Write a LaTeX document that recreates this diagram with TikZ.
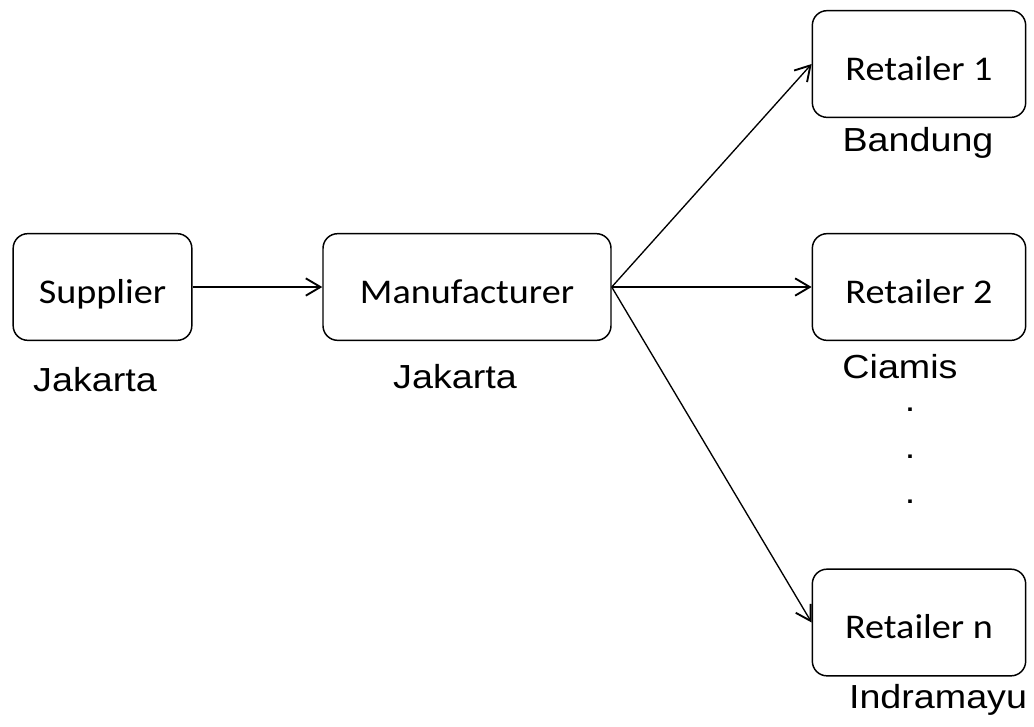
\documentclass[tikz,border=0pt]{standalone}
\usepackage{fontspec}
\setmainfont{Liberation Sans}[FakeStretch=1.13]
\newfontfamily\boxfont{Carlito}[FakeStretch=1.1]
\usetikzlibrary{arrows.meta}

\tikzset{
  box/.style={draw, rounded corners=11pt, line width=1.1pt, inner sep=0pt,
    minimum height=80pt, text height=24pt, text depth=0pt,
    font=\boxfont\fontsize{26}{30}\selectfont},
  place/.style={inner sep=0pt, font=\fontsize{25}{30}\selectfont},
  link/.style={line width=1pt,
    -{Straight Barb[length=11pt, width=13pt, line width=1.4pt]}}
}

\begin{document}
\begin{tikzpicture}[x=0.75pt, y=-0.75pt]
  \useasboundingbox (0,0) rectangle (1034,726);

  % boxes
  \node[box, minimum width=134pt] (supplier) at (102.5,287) {Supplier};
  \node[box, minimum width=216pt] (manuf) at (467,287) {Manufacturer};
  \node[box, minimum width=160pt] (ret1) at (919,64) {Retailer 1};
  \node[box, minimum width=160pt] (ret2) at (919,287) {Retailer 2};
  \node[box, minimum width=160pt] (retn) at (919,622.5) {Retailer n};

  % cities
  \node[place] (jak1) at (95,380) {Jakarta};
  \node[place] (jak2) at (455,377) {Jakarta};
  \node[place] (bdg) at (918,143) {Bandung};
  \node[place] (cms) at (900,367) {Ciamis};
  \node[place] (idm) at (938,700) {Indramayu};

  % dots between retailers
  \foreach \y/\n in {410/a,457/b,502/c}
    \node[place] (dot\n) at (910,\y) {.};

  % flows
  \draw[link] (supplier) -- (manuf);
  \draw[link] (manuf.east) -- (ret1.west);
  \draw[link] (manuf.east) -- (ret2.west);
  \draw[link] (manuf.east) -- (retn.west);

\end{tikzpicture}
\end{document}
